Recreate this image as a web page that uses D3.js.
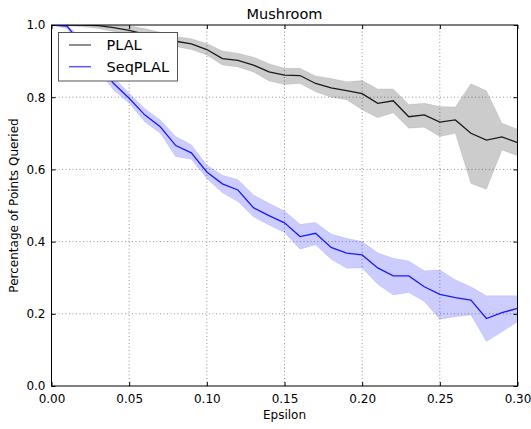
<!DOCTYPE html>
<html>
<head>
<meta charset="utf-8">
<script src="https://cdn.jsdelivr.net/npm/d3@7"></script>
<style>
  html, body { margin: 0; padding: 0; background: #fff; }
  svg { display: block; font-family: "DejaVu Sans", sans-serif; }
</style>
</head>
<body>
<svg id="chart" width="531" height="429"></svg>
<script>
// Epsilon values (x axis)
const epsilon = [0.00,0.01,0.02,0.03,0.04,0.05,0.06,0.07,0.08,0.09,0.10,
                 0.11,0.12,0.13,0.14,0.15,0.16,0.17,0.18,0.19,0.20,
                 0.21,0.22,0.23,0.24,0.25,0.26,0.27,0.28,0.29,0.30];

// PLAL: mean fraction of points queried and its spread band
const plalMean  = [1.000,1.000,1.000,0.998,0.993,0.985,0.975,0.965,0.955,0.948,0.932,
                   0.907,0.902,0.889,0.870,0.861,0.860,0.838,0.826,0.818,0.810,
                   0.783,0.790,0.746,0.751,0.731,0.737,0.700,0.681,0.690,0.674];
const plalUpper = [1.000,1.000,1.000,1.000,1.000,0.998,0.990,0.980,0.968,0.962,0.949,
                   0.928,0.922,0.911,0.893,0.880,0.880,0.859,0.852,0.843,0.846,
                   0.823,0.823,0.780,0.783,0.774,0.773,0.837,0.818,0.728,0.711];
const plalLower = [1.000,0.998,0.995,0.990,0.982,0.972,0.960,0.950,0.940,0.932,0.917,
                   0.889,0.884,0.870,0.845,0.835,0.838,0.815,0.800,0.793,0.765,
                   0.743,0.757,0.714,0.717,0.691,0.700,0.561,0.545,0.654,0.638];

// SeqPLAL: mean fraction of points queried and its spread band
const seqMean  = [1.000,0.997,0.944,0.891,0.838,0.797,0.751,0.718,0.666,0.646,0.593,
                  0.560,0.543,0.494,0.472,0.452,0.414,0.423,0.384,0.368,0.363,
                  0.327,0.305,0.305,0.275,0.254,0.245,0.238,0.187,0.203,0.215];
const seqUpper = [1.000,1.000,0.960,0.910,0.855,0.811,0.769,0.737,0.691,0.668,0.612,
                  0.584,0.572,0.529,0.506,0.485,0.448,0.453,0.421,0.409,0.400,
                  0.369,0.354,0.346,0.319,0.321,0.294,0.275,0.250,0.250,0.250];
const seqLower = [1.000,0.990,0.930,0.875,0.820,0.783,0.732,0.700,0.635,0.628,0.575,
                  0.535,0.511,0.469,0.446,0.425,0.379,0.391,0.351,0.326,0.327,
                  0.282,0.252,0.259,0.234,0.185,0.192,0.197,0.123,0.150,0.178];

const xTicks = [0.00,0.05,0.10,0.15,0.20,0.25,0.30];
const yTicks = [0.0,0.2,0.4,0.6,0.8,1.0];
const seriesNames = ["PLAL","SeqPLAL"];

const svg = d3.select("#chart");
const margin = {left: 51.5, right: 13.5, top: 25, bottom: 43};
const W = 531, H = 429;
const x = d3.scaleLinear().domain([0, 0.30]).range([margin.left, W - margin.right]);
const y = d3.scaleLinear().domain([0, 1]).range([H - margin.bottom, margin.top]);

svg.append("defs").append("clipPath").attr("id", "plotClip")
  .append("rect")
  .attr("x", x(0)).attr("y", y(1))
  .attr("width", x(0.30) - x(0)).attr("height", y(0) - y(1));

// dotted grid
const grid = svg.append("g");
grid.selectAll("line.gx").data(xTicks.slice(1, -1)).join("line")
  .attr("x1", d => x(d)).attr("x2", d => x(d))
  .attr("y1", y(0)).attr("y2", y(1))
  .attr("stroke", "#7a7a7a").attr("stroke-width", 0.8).attr("stroke-dasharray", "1,2.5");
grid.selectAll("line.gy").data(yTicks.slice(1, -1)).join("line")
  .attr("y1", d => y(d)).attr("y2", d => y(d))
  .attr("x1", x(0)).attr("x2", x(0.30))
  .attr("stroke", "#7a7a7a").attr("stroke-width", 0.8).attr("stroke-dasharray", "1,2.5");

const plot = svg.append("g").attr("clip-path", "url(#plotClip)");

function band(upper, lower) {
  return d3.area()
    .x((d, i) => x(epsilon[i]))
    .y0((d, i) => y(lower[i]))
    .y1((d, i) => y(upper[i]))(epsilon);
}
function line(vals) {
  return d3.line().x((d, i) => x(epsilon[i])).y(d => y(d))(vals);
}

plot.append("path").attr("d", band(plalUpper, plalLower))
  .attr("fill", "rgba(0,0,0,0.2)").attr("stroke", "rgba(0,0,0,0.08)").attr("stroke-width", 1);
plot.append("path").attr("d", band(seqUpper, seqLower))
  .attr("fill", "rgba(0,0,255,0.2)").attr("stroke", "rgba(0,0,255,0.08)").attr("stroke-width", 1);

plot.append("path").attr("d", line(plalMean))
  .attr("fill", "none").attr("stroke", "#1a1a1a").attr("stroke-width", 1.3);
plot.append("path").attr("d", line(seqMean))
  .attr("fill", "none").attr("stroke", "#1a1aff").attr("stroke-width", 1.3);

// frame
svg.append("rect")
  .attr("x", x(0)).attr("y", y(1))
  .attr("width", x(0.30) - x(0)).attr("height", y(0) - y(1))
  .attr("fill", "none").attr("stroke", "#000").attr("stroke-width", 1);

// axes with inward ticks on all four sides
const fmtX = d3.format(".2f"), fmtY = d3.format(".1f");
const axB = svg.append("g").attr("transform", `translate(0,${y(0)})`)
  .call(d3.axisBottom(x).tickValues(xTicks).tickFormat(fmtX).tickSizeInner(-4).tickSizeOuter(0).tickPadding(8));
const axT = svg.append("g").attr("transform", `translate(0,${y(1)})`)
  .call(d3.axisTop(x).tickValues(xTicks).tickFormat("").tickSizeInner(-4).tickSizeOuter(0));
const axL = svg.append("g").attr("transform", `translate(${x(0)},0)`)
  .call(d3.axisLeft(y).tickValues(yTicks).tickFormat(fmtY).tickSizeInner(-4).tickSizeOuter(0).tickPadding(6));
const axR = svg.append("g").attr("transform", `translate(${x(0.30)},0)`)
  .call(d3.axisRight(y).tickValues(yTicks).tickFormat("").tickSizeInner(-4).tickSizeOuter(0));
[axB, axT, axL, axR].forEach(a => {
  a.select(".domain").remove();
  a.selectAll("line").attr("stroke", "#000");
  a.selectAll("text").attr("fill", "#000").style("font-size", "12px").style("font-family", "DejaVu Sans");
});

// title and axis labels
svg.append("text").attr("x", (x(0) + x(0.30)) / 2).attr("y", 19)
  .attr("text-anchor", "middle").style("font-size", "14.5px").text("Mushroom");
svg.append("text").attr("x", (x(0) + x(0.30)) / 2).attr("y", 419)
  .attr("text-anchor", "middle").style("font-size", "12px").text("Epsilon");
svg.append("text")
  .attr("transform", `translate(18,${(y(0) + y(1)) / 2}) rotate(-90)`)
  .attr("text-anchor", "middle").style("font-size", "12px").text("Percentage of Points Queried");

// legend
const lg = svg.append("g");
lg.append("rect").attr("x", 58.5).attr("y", 32.5).attr("width", 119).attr("height", 48.5)
  .attr("fill", "#fff").attr("stroke", "#555").attr("stroke-width", 1);
const legendColors = ["#6a6a6a", "#5a5aff"];
seriesNames.forEach((name, i) => {
  const ly = 45 + i * 21.7;
  lg.append("line").attr("x1", 69).attr("x2", 91).attr("y1", ly).attr("y2", ly)
    .attr("stroke", legendColors[i]).attr("stroke-width", 1.5);
  lg.append("text").attr("x", 106.5).attr("y", ly + 5)
    .style("font-size", "14.5px").text(name);
});
</script>
</body>
</html>
